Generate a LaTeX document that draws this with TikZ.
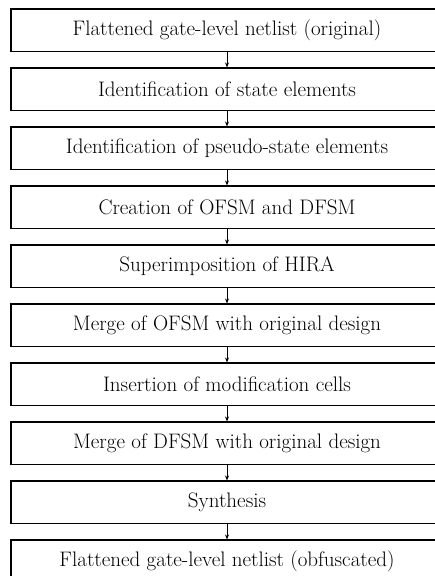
\documentclass[tikz,border=0pt]{standalone}
\usetikzlibrary{arrows.meta}
\begin{document}
\begin{tikzpicture}[x=1pt,y=1pt,
  stage/.style={draw=black, line width=1.1pt, fill=white, minimum width=432pt, minimum height=42.5pt, inner sep=0pt, font=\fontsize{21}{25}\selectfont},
  arr/.style={draw=black, line width=0.9pt, -{Stealth[length=5pt,width=4pt]}}]
\clip (0,0) rectangle (435,-576);
\useasboundingbox (0,0) rectangle (435,-576);
\node[stage] (b1)  at (227,-30.25) {Flattened gate-level netlist (original)};
\node[stage] (b2)  at (227,-89.25) {Identification of state elements};
\node[stage] (b3)  at (227,-148.25) {Identification of pseudo-state elements};
\node[stage] (b4)  at (227,-207.25) {Creation of OFSM and DFSM};
\node[stage] (b5)  at (227,-266.25) {Superimposition of HIRA};
\node[stage] (b6)  at (227,-325.25) {Merge of OFSM with original design};
\node[stage] (b7)  at (227,-384.25) {Insertion of modification cells};
\node[stage] (b8)  at (227,-443.25) {Merge of DFSM with original design};
\node[stage] (b9)  at (227,-502.25) {Synthesis};
\node[stage] (b10) at (227,-561.25) {Flattened gate-level netlist (obfuscated)};
\foreach \a/\b in {b1/b2,b2/b3,b3/b4,b4/b5,b5/b6,b6/b7,b7/b8,b8/b9,b9/b10}
  \draw[arr] (\a) -- (\b);
\end{tikzpicture}
\end{document}
